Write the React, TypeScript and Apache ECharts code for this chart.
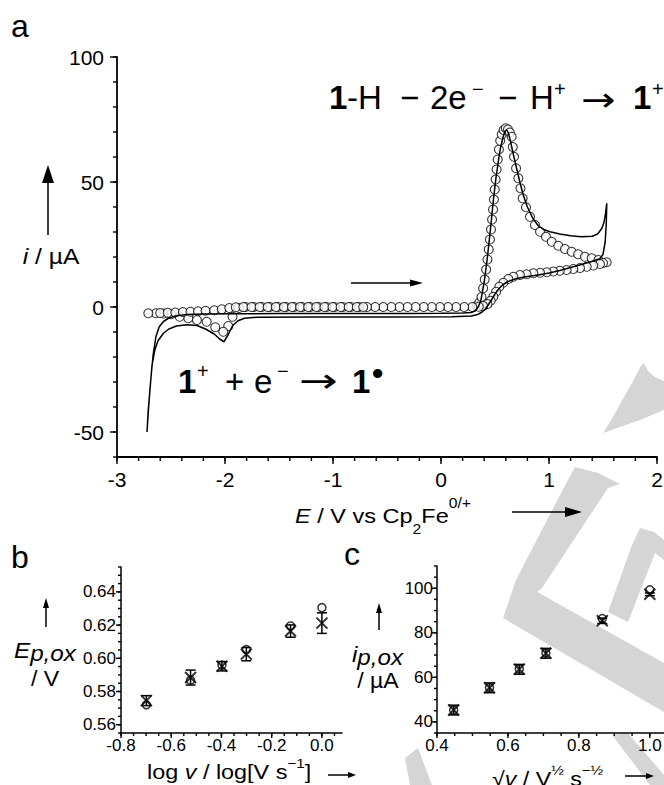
import React, { useEffect, useRef } from 'react';
import * as echarts from 'echarts';

const FONT = '"Liberation Sans", Arial, Helvetica, sans-serif';
const ARROW_FONT = '"DejaVu Sans", sans-serif';

// ---------- Panel a: cyclic voltammogram ----------
// experimental trace (solid line), in scan order: [E / V, i / uA]
const cvForward: number[][] = [
  [-0.7, -2.6], [-0.3, -2.6], [0.0, -2.5], [0.2, -2.4], [0.28, -2.2], [0.32, -1.5], [0.35, 0.5], [0.37, 2.8],
  [0.4, 10], [0.43, 20], [0.46, 32], [0.485, 42.8], [0.51, 52], [0.53, 58], [0.55, 63.5], [0.575, 68],
  [0.595, 70.5], [0.61, 70.8], [0.625, 69.5], [0.645, 66], [0.67, 61], [0.7, 55.5], [0.73, 50], [0.76, 45],
  [0.8, 40], [0.85, 35.5], [0.9, 32.5], [0.95, 31], [1.01, 30.1], [1.1, 29.2], [1.2, 28.5], [1.3, 28.1],
  [1.4, 28.3], [1.45, 29.2], [1.49, 31.5], [1.51, 34], [1.525, 38], [1.535, 41.5],
];
const cvReverse: number[][] = [
  [1.53, 33], [1.52, 26], [1.5, 21], [1.47, 19.3], [1.4, 18.3], [1.3, 17], [1.2, 15.8], [1.1, 14.6],
  [1.0, 13.6], [0.9, 12.8], [0.8, 12.2], [0.7, 11.4], [0.62, 10.2], [0.57, 8.8], [0.53, 7], [0.5, 5.2],
  [0.47, 3], [0.44, 1], [0.41, -0.8], [0.38, -2], [0.34, -3], [0.28, -3.6], [0.1, -3.9], [-0.5, -4],
  [-1.2, -4], [-1.7, -4.1], [-1.82, -4.5], [-1.88, -5.5], [-1.93, -7.5], [-1.97, -11], [-2.01, -13.9],
  [-2.05, -12.8], [-2.1, -10.8], [-2.18, -8.8], [-2.26, -7.4], [-2.35, -7.1], [-2.45, -7.6], [-2.52, -8.8],
  [-2.57, -10.5], [-2.62, -13.5], [-2.65, -17.2], [-2.675, -23], [-2.695, -33], [-2.712, -42], [-2.722, -50],
];
const cvReturn: number[][] = [
  [-2.712, -43], [-2.7, -36], [-2.685, -28], [-2.665, -19], [-2.64, -12], [-2.61, -8], [-2.57, -5.8],
  [-2.52, -4.4], [-2.45, -3.5], [-2.35, -3], [-2.2, -2.8], [-1.9, -2.7], [-1.5, -2.6], [-0.7, -2.6],
];

// simulated trace (open circles): [E / V, i / uA]
const simRise: number[][] = [
  [0.33, 0.5], [0.355, 1.8], [0.375, 4], [0.39, 7.5], [0.405, 11], [0.418, 15], [0.43, 19], [0.442, 23],
  [0.453, 27], [0.463, 31], [0.473, 35], [0.482, 39], [0.49, 43], [0.498, 47], [0.506, 51], [0.515, 55],
  [0.525, 59], [0.536, 63], [0.548, 66.5], [0.562, 69], [0.58, 70.8], [0.6, 71.5], [0.62, 71], [0.637, 69.8],
];
const simDecay: number[][] = [
  [0.654, 68.1], [0.665, 64], [0.676, 60.1], [0.695, 55.5], [0.716, 51.5], [0.736, 47.5], [0.756, 43.5],
  [0.787, 39.9], [0.824, 36.1], [0.87, 32.8], [0.917, 30.1], [0.972, 28.1], [1.025, 26.1], [1.086, 24.5],
  [1.148, 23.2], [1.21, 22.1], [1.27, 21.1], [1.333, 20.1], [1.395, 19.5], [1.457, 18.8], [1.534, 17.9],
];
const simBack: number[][] = [
  [1.5, 17.6], [1.472, 17.2], [1.41, 16.6], [1.349, 16.1], [1.287, 15.6], [1.225, 15.2], [1.163, 14.8],
  [1.1, 14.5], [1.04, 14.2], [0.979, 13.9], [0.917, 13.7], [0.855, 13.5], [0.793, 13.1], [0.731, 12.8],
  [0.67, 12.1], [0.623, 11.2], [0.577, 9.7], [0.54, 8.1], [0.51, 6.1], [0.485, 4.1], [0.46, 2.5],
  [0.43, 1.2], [0.39, 0.4], [0.35, 0.1],
];
const simBaseBack: number[][] = [
  [0.29, 0], [0.215, 0], [0.14, 0], [0.065, 0], [-0.01, 0], [-0.085, 0], [-0.16, 0], [-0.235, 0],
  [-0.31, 0], [-0.385, 0], [-0.46, 0], [-0.535, 0], [-0.61, 0], [-0.685, 0], [-0.76, 0], [-0.835, 0],
  [-0.91, 0], [-0.985, 0], [-1.06, 0], [-1.135, 0], [-1.21, 0], [-1.285, 0], [-1.36, 0], [-1.435, 0],
  [-1.51, 0], [-1.585, 0], [-1.66, 0], [-1.735, 0], [-1.81, 0], [-1.87, -0.4],
];
const simDip: number[][] = [
  [-1.93, -3.9], [-1.97, -7.6], [-2.016, -9.9], [-2.09, -8.1], [-2.17, -5.9], [-2.26, -5.2], [-2.34, -4.5],
  [-2.42, -3.9], [-2.5, -2.9], [-2.57, -2.6], [-2.64, -2.5], [-2.71, -2.5],
];
const simBaseFwd: number[][] = [
  [-2.6, -2.4], [-2.53, -2.3], [-2.46, -2.2], [-2.39, -2.0], [-2.32, -1.9], [-2.25, -1.7], [-2.18, -1.5],
  [-2.1, -1.3], [-2.03, -0.9], [-1.96, -0.4], [-1.9, -0.1], [-1.83, 0], [-1.755, 0], [-1.68, 0],
  [-1.605, 0], [-1.53, 0], [-1.455, 0], [-1.38, 0], [-1.305, 0], [-1.23, 0], [-1.155, 0], [-1.08, 0],
  [-1.005, 0], [-0.93, 0], [-0.855, 0], [-0.78, 0], [-0.72, 0],
];
const aXTicks = [-3, -2, -1, 0, 1, 2];
const aYTicks = [-50, 0, 50, 100];

// ---------- Panel b: Ep,ox vs log v ----------
const bLogV = [-0.699, -0.523, -0.398, -0.301, -0.125, 0.0];
const bEpCircle = [0.572, 0.5868, 0.5959, 0.6052, 0.6195, 0.6305];
const bEpCross = [0.5745, 0.5884, 0.5952, 0.6025, 0.6164, 0.6212];
const bEpErr = [0.003, 0.0045, 0.0028, 0.004, 0.0037, 0.0062];
const bXTicks = [-0.8, -0.6, -0.4, -0.2, 0.0];
const bYTicks = [0.56, 0.58, 0.6, 0.62, 0.64];

// ---------- Panel c: ip,ox vs sqrt v ----------
const cSqrtV = [0.447, 0.548, 0.632, 0.707, 0.866, 1.0];
const cIpCircle = [45.3, 55.4, 63.7, 70.9, 86.4, 99.3];
const cIpCross = [45.3, 55.3, 63.6, 70.8, 85.4, 97.3];
const cIpErr = [2.2, 2.2, 2.2, 2.2, 1.2, 0.6];
const cXTicks = [0.4, 0.6, 0.8, 1.0];
const cYTicks = [40, 60, 80, 100];

// axis extents [min, max] and minor tick steps
const aX = [-3, 2], aY = [-60, 100];
const bX = [-0.8, 0.08], bY = [0.555, 0.655];
const cX = [0.4, 1.04], cY = [35, 110];

// ---------- helpers ----------
function steps(lo: number, hi: number, step: number) {
  const out: number[] = [];
  const n = Math.floor((hi - lo) / step + 1e-6);
  for (let k = 0; k <= n; k++) out.push(Math.round((lo + k * step) * 1e6) / 1e6);
  return out;
}
function onlyTicks(ticks: number[], digits: number | null) {
  return (v: number) => {
    const hit = ticks.some((t) => Math.abs(t - v) < 1e-9);
    if (!hit) return '';
    return digits === null ? String(Math.round(v)) : v.toFixed(digits);
  };
}
function axis(gridIndex: number, ext: number[], extra: any, fmt: (v: number) => string,
  pos: string, fontSize: number, margin: number, lineW: number) {
  return {
    type: 'value', gridIndex, min: ext[0], max: ext[1], position: pos, ...extra,
    axisLine: { show: true, onZero: false, lineStyle: { color: '#000', width: lineW } },
    axisTick: { show: false },
    minorTick: { show: false },
    axisLabel: { show: true, formatter: fmt, color: '#000', fontSize, fontFamily: FONT, margin },
    splitLine: { show: false },
  };
}
// tick marks drawn through the axes' own scales
function tickSeries(idx: number, dir: 'x' | 'y', ext: number[], other: number, majors: number[], minors: number[], majLen: number, minLen: number) {
  const items: number[][] = [];
  minors.forEach((v) => items.push(dir === 'x' ? [v, other, minLen] : [other, v, minLen]));
  majors.forEach((v) => items.push(dir === 'x' ? [v, other, majLen] : [other, v, majLen]));
  return {
    type: 'custom', xAxisIndex: idx, yAxisIndex: idx, z: 5, clip: false, silent: true,
    data: items, encode: { x: 0, y: 1 },
    renderItem: (params: any, api: any) => {
      const c = api.coord([api.value(0), api.value(1)]);
      const L = api.value(2);
      const shape = dir === 'x'
        ? { x1: c[0], y1: c[1], x2: c[0], y2: c[1] + L }
        : { x1: c[0] - L, y1: c[1], x2: c[0], y2: c[1] };
      return { type: 'line', shape, style: { stroke: '#000', lineWidth: 1.4 } };
    },
  };
}
function T(x: number, y: number, text: string, size: number, extra: any = {}) {
  return {
    type: 'text', x, y, z: 10, scaleX: extra.sx || 1,
    style: {
      text, fill: '#000', fontSize: size, fontFamily: extra.font || FONT,
      fontWeight: extra.weight || 'normal', fontStyle: extra.italic ? 'italic' : 'normal',
      align: extra.align || 'left', verticalAlign: 'middle',
      textAlign: extra.align || 'left', textVerticalAlign: 'middle',
    },
  };
}
function R(x: number, y: number, text: string, rich: any, sx: number, align = 'left') {
  return {
    type: 'text', x, y, z: 10, scaleX: sx,
    style: { text, rich, fill: '#000', fontFamily: FONT, align, verticalAlign: 'middle', textAlign: align, textVerticalAlign: 'middle' },
  };
}
function hArrow(x1: number, x2: number, y: number, hl: number, hw: number, lw = 1.5) {
  return [
    { type: 'line', z: 10, shape: { x1, y1: y, x2: x2 - hl + 1, y2: y }, style: { stroke: '#000', lineWidth: lw } },
    { type: 'polygon', z: 10, shape: { points: [[x2, y], [x2 - hl, y - hw], [x2 - hl, y + hw]] }, style: { fill: '#000' } },
  ];
}
function vArrow(x: number, yTip: number, yBase: number, hl: number, hw: number, lw = 1.5) {
  return [
    { type: 'line', z: 10, shape: { x1: x, y1: yBase, x2: x, y2: yTip + hl - 1 }, style: { stroke: '#000', lineWidth: lw } },
    { type: 'polygon', z: 10, shape: { points: [[x, yTip], [x - hw, yTip + hl], [x + hw, yTip + hl]] }, style: { fill: '#000' } },
  ];
}
function errBars(xs: number[], ys: number[], es: number[]) {
  return xs.map((x, i) => [x, ys[i] - es[i], ys[i] + es[i]]);
}
function renderErr(params: any, api: any) {
  const p1 = api.coord([api.value(0), api.value(1)]);
  const p2 = api.coord([api.value(0), api.value(2)]);
  const w = 5;
  const st = { stroke: '#000', lineWidth: 1.5 };
  return {
    type: 'group',
    children: [
      { type: 'line', shape: { x1: p1[0], y1: p1[1], x2: p2[0], y2: p2[1] }, style: st },
      { type: 'line', shape: { x1: p1[0] - w, y1: p1[1], x2: p1[0] + w, y2: p1[1] }, style: st },
      { type: 'line', shape: { x1: p2[0] - w, y1: p2[1], x2: p2[0] + w, y2: p2[1] }, style: st },
    ],
  };
}
const X_SYMBOL = 'path://M0,0L10,10M10,0L0,10';
const WM = '#d5d5d5';
function wm(points: number[][]) {
  return { type: 'polygon', z: -5, silent: true, shape: { points }, style: { fill: WM } };
}

const supRich = (n: number) => ({
  n: { fontSize: n, fontFamily: FONT, lineHeight: 40 },
  i: { fontSize: n, fontFamily: FONT, fontStyle: 'italic', lineHeight: 40 },
  sub: { fontSize: 14, fontFamily: FONT, lineHeight: 14, verticalAlign: 'bottom' },
  sup: { fontSize: 14, fontFamily: FONT, lineHeight: 20, verticalAlign: 'top' },
});
const nameRich = {
  n: { fontSize: 20, fontFamily: FONT, lineHeight: 30 },
  i: { fontSize: 20, fontFamily: FONT, fontStyle: 'italic', lineHeight: 30 },
  sup: { fontSize: 13, fontFamily: FONT, lineHeight: 13, verticalAlign: 'top' },
};
const yNameRich = {
  i: { fontSize: 22, fontFamily: FONT, fontStyle: 'italic', lineHeight: 28 },
  s: { fontSize: 22, fontFamily: FONT, fontStyle: 'italic', lineHeight: 22, verticalAlign: 'bottom' },
  n: { fontSize: 22, fontFamily: FONT, lineHeight: 28 },
};

const option: any = {
  animation: false,
  backgroundColor: '#fff',
  grid: [
    { left: 117, top: 57, width: 540, height: 400, outerBoundsMode: 'none' },
    { left: 121, top: 567, width: 221, height: 166, outerBoundsMode: 'none' },
    { left: 437, top: 566, width: 227, height: 167, outerBoundsMode: 'none' },
  ],
  xAxis: [
    axis(0, aX, { interval: 1 }, onlyTicks(aXTicks, null), 'bottom', 21, 12, 1.8),
    axis(1, bX, { interval: 0.2 }, onlyTicks(bXTicks, 1), 'bottom', 17, 4, 1.5),
    axis(2, cX, { interval: 0.2 }, onlyTicks(cXTicks, 1), 'bottom', 17, 4, 1.5),
  ],
  yAxis: [
    axis(0, aY, { splitNumber: 3 }, onlyTicks(aYTicks, null), 'left', 21, 13, 1.8),
    axis(1, bY, { splitNumber: 5 }, onlyTicks(bYTicks, 2), 'left', 17, 5, 1.5),
    axis(2, cY, { splitNumber: 4 }, onlyTicks(cYTicks, null), 'left', 17, 4, 1.5),
  ],
  series: [
    {
      type: 'scatter', xAxisIndex: 0, yAxisIndex: 0, z: 2,
      data: [...simRise, ...simDecay, ...simBack, ...simBaseBack, ...simDip, ...simBaseFwd],
      symbol: 'circle', symbolSize: 9,
      itemStyle: { color: '#fff', borderColor: '#000', borderWidth: 1.1 },
    },
    {
      type: 'line', xAxisIndex: 0, yAxisIndex: 0, z: 3,
      data: [...cvForward, ...cvReverse, ...cvReturn],
      showSymbol: false, symbol: 'none', smooth: false,
      lineStyle: { color: '#000', width: 1.5 },
    },
    tickSeries(0, 'x', aX, aY[0], aXTicks, steps(aX[0], aX[1], 0.2), 7, 4),
    tickSeries(0, 'y', aY, aX[0], aYTicks, steps(aY[0], aY[1], 10), 7, 4),
    tickSeries(1, 'x', bX, bY[0], bXTicks, steps(bX[0], bX[1], 0.05), 5, 3),
    tickSeries(1, 'y', bY, bX[0], bYTicks, steps(bY[0], bY[1], 0.005), 5, 3),
    tickSeries(2, 'x', cX, cY[0], cXTicks, steps(cX[0], cX[1], 0.05), 5, 3),
    tickSeries(2, 'y', cY, cX[0], cYTicks, steps(cY[0], cY[1], 5), 5, 3),
    {
      type: 'custom', xAxisIndex: 1, yAxisIndex: 1, z: 3,
      data: errBars(bLogV, bEpCross, bEpErr), encode: { x: 0, y: [1, 2] }, renderItem: renderErr,
    },
    {
      type: 'scatter', xAxisIndex: 1, yAxisIndex: 1, z: 3,
      data: bLogV.map((x, i) => [x, bEpCircle[i]]), symbol: 'circle', symbolSize: 8,
      itemStyle: { color: 'rgba(0,0,0,0)', borderColor: '#000', borderWidth: 1.5 },
    },
    {
      type: 'scatter', xAxisIndex: 1, yAxisIndex: 1, z: 4,
      data: bLogV.map((x, i) => [x, bEpCross[i]]), symbol: X_SYMBOL, symbolSize: 11,
      itemStyle: { color: 'rgba(0,0,0,0)', borderColor: '#000', borderWidth: 2 },
    },
    {
      type: 'custom', xAxisIndex: 2, yAxisIndex: 2, z: 3,
      data: errBars(cSqrtV, cIpCross, cIpErr), encode: { x: 0, y: [1, 2] }, renderItem: renderErr,
    },
    {
      type: 'scatter', xAxisIndex: 2, yAxisIndex: 2, z: 3,
      data: cSqrtV.map((x, i) => [x, cIpCircle[i]]), symbol: 'circle', symbolSize: 8,
      itemStyle: { color: 'rgba(0,0,0,0)', borderColor: '#000', borderWidth: 1.5 },
    },
    {
      type: 'scatter', xAxisIndex: 2, yAxisIndex: 2, z: 4,
      data: cSqrtV.map((x, i) => [x, cIpCross[i]]), symbol: X_SYMBOL, symbolSize: 11,
      itemStyle: { color: 'rgba(0,0,0,0)', borderColor: '#000', borderWidth: 2 },
    },
  ],
  graphic: {
    elements: [
      // watermark
      wm([[603, 433], [613, 417], [623, 399], [633, 381], [641, 366], [644, 363], [648, 371], [655, 377], [664, 381], [664, 410], [640, 420]]),
      wm([[575, 467], [598, 473], [620, 484], [608, 488], [542, 588], [503, 618], [516, 580], [560, 495]]),
      wm([[532, 589], [664, 663], [664, 712], [503, 618]]),
      wm([[640, 528], [654, 532], [664, 540], [664, 560], [655, 553], [628, 622], [608, 612], [632, 545]]),
      wm([[405, 758], [418, 748], [432, 785], [410, 785]]),
      wm([[612, 735], [628, 733], [664, 775], [664, 785], [650, 785]]),
      // panel letters
      T(11, 26, 'a', 32),
      T(11, 557, 'b', 32),
      T(344, 554, 'c', 32),
      // equation top
      T(329, 97, '1', 33, { weight: 'bold' }),
      T(347, 97, '-H', 33),
      T(400, 97, '\u2212', 33),
      T(430, 97, '2e', 33),
      T(472, 89, '\u2212', 20),
      T(498, 97, '\u2212', 33),
      T(530, 97, 'H', 33),
      T(554, 89, '+', 20),
      T(581, 100, '\u2192', 33, { font: ARROW_FONT, sx: 1.25 }),
      T(633, 97, '1', 33, { weight: 'bold' }),
      T(652, 89, '+', 20),
      // equation bottom
      T(178, 381, '1', 33, { weight: 'bold' }),
      T(197, 371, '+', 20),
      T(225, 381, '+', 33),
      T(254, 381, 'e', 33),
      T(277, 371, '\u2212', 20),
      T(299, 380, '\u2192', 33, { font: ARROW_FONT, sx: 1.4 }),
      T(352, 381, '1', 33, { weight: 'bold' }),
      T(372, 373, '\u2022', 32, { weight: 'bold' }),
      // panel a axis names
      ...vArrow(48, 165, 235, 18, 6),
      R(51, 256, '{i|i}{n| / \u00b5A}', supRich(22), 1.12, 'center'),
      R(295, 516, '{i|E}{n| / V vs Cp}{sub|2}{n|Fe}{sup|0/+}', supRich(21), 1.12),
      ...hArrow(512, 582, 512, 17, 5),
      ...hArrow(351, 423, 283, 13, 3.5),
      // panel b axis names
      ...vArrow(46, 598, 627, 10, 3),
      R(14, 650, '{i|E}{s|p,ox}', yNameRich, 1.1),
      R(45, 679, '{n|/ V}', yNameRich, 1.05, 'center'),
      R(147, 772, '{n|log }{i|v}{n| / log[V s}{sup|\u22121}{n|]}', nameRich, 1.17),
      ...hArrow(328, 356, 775, 8, 3),
      // panel c axis names
      ...vArrow(379, 603, 630, 10, 3),
      R(352, 654, '{i|i}{s|p,ox}', yNameRich, 1.1),
      R(378, 681, '{n|/ \u00b5A}', yNameRich, 1.05, 'center'),
      R(492, 779, '{n|\u221a}{i|v}{n| / V}{sup|\u00bd}{n| s}{sup|\u2212\u00bd}', nameRich, 1.16),
      ...hArrow(625, 654, 776, 8, 3),
    ],
  },
};

export default function App() {
  const ref = useRef<HTMLDivElement>(null);
  useEffect(() => {
    const chart = echarts.init(ref.current!, null, { renderer: 'svg', width: 664, height: 785 });
    chart.setOption(option);
    return () => chart.dispose();
  }, []);
  return <div ref={ref} style={{ position: 'absolute', left: 0, top: 0, width: 664, height: 785 }} />;
}
